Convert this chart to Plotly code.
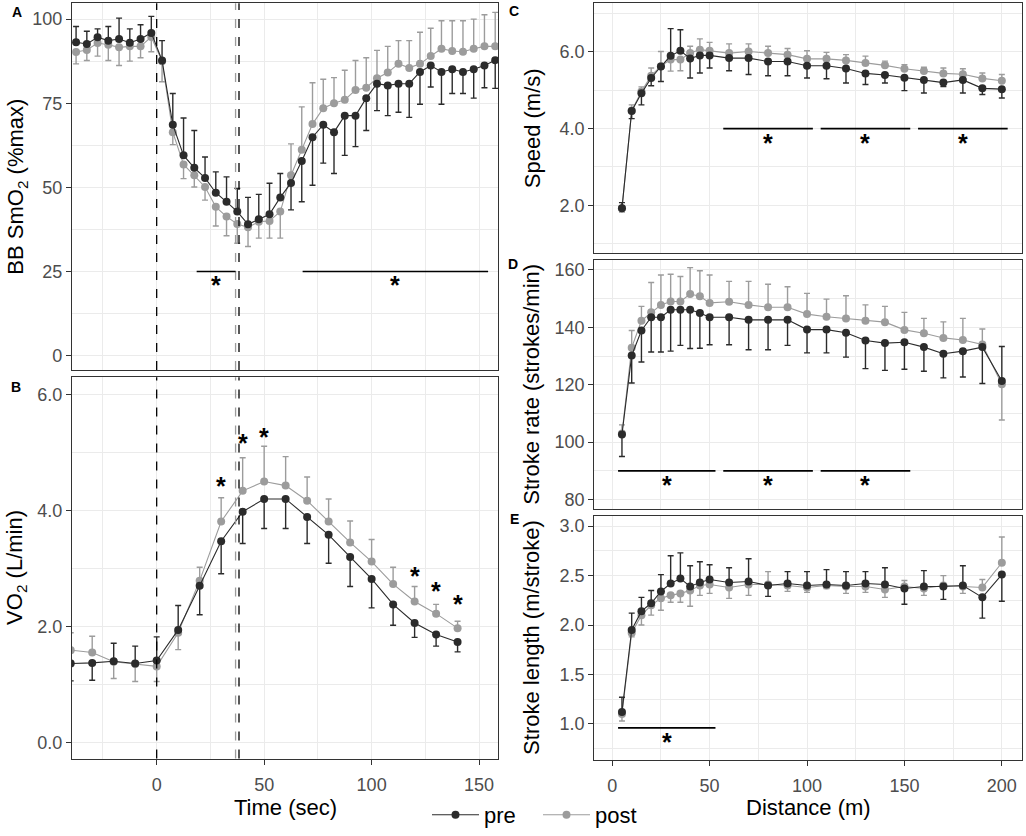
import plotly.graph_objects as go

# ---------------- data ----------------
# A: BB SmO2 (%max) vs time
time_smo2 = [-37.5, -32.5, -27.5, -22.5, -17.5, -12.5, -7.5, -2.5, 2.5, 7.5,
             12.5, 17.5, 22.5, 27.5, 32.5, 37.5, 42.5, 47.5, 52.5, 57.5,
             62.5, 67.5, 72.5, 77.5, 82.5, 87.5, 92.5, 97.5, 102.5, 107.5,
             112.5, 117.5, 122.5, 127.5, 132.5, 137.5, 142.5, 147.5, 152.5, 157.5]
smo2_pre = [93.1, 92.6, 94.6, 93.6, 94.1, 93.0, 94.1, 95.9, 87.7, 68.6,
            59.5, 55.8, 52.8, 48.4, 45.7, 42.8, 39.0, 40.5, 42.0, 47.0,
            51.3, 57.8, 64.9, 68.6, 66.4, 71.3, 71.3, 76.5, 80.8, 80.3,
            80.8, 80.8, 84.3, 86.2, 84.3, 85.1, 84.3, 85.1, 86.2, 87.8]
smo2_pre_sd = [4.7, 3.8, 2.5, 4.2, 6.2, 4.1, 4.2, 4.9, 5.9, 9.3,
               11.1, 11.1, 6.2, 6.2, 7.4, 6.9, 8.0, 7.4, 9.2, 7.1,
               8.0, 12.1, 14.3, 11.4, 12.3, 11.8, 9.2, 9.6, 8.0, 9.0,
               8.5, 10.0, 9.6, 6.4, 9.6, 7.2, 6.4, 8.6, 6.6, 8.4]
smo2_post = [90.2, 90.8, 92.9, 92.4, 91.6, 91.9, 91.9, 94.7, 87.5, 66.4,
             56.8, 53.6, 50.1, 44.2, 41.3, 39.1, 38.1, 39.8, 40.0, 42.8,
             53.6, 61.2, 68.8, 73.5, 75.0, 76.0, 78.9, 79.6, 82.4, 84.1,
             86.7, 85.5, 86.7, 89.0, 91.2, 90.5, 90.3, 91.2, 91.9, 91.9]
smo2_post_sd = [3.5, 3.1, 3.9, 4.7, 5.4, 4.4, 3.4, 4.4, 6.1, 3.7,
                4.2, 3.5, 3.9, 5.7, 5.7, 5.7, 5.7, 4.9, 5.1, 7.9,
                9.3, 12.7, 12.3, 8.6, 7.6, 8.8, 8.8, 8.9, 8.3, 7.8,
                6.9, 8.1, 9.4, 8.3, 8.3, 9.0, 9.2, 8.8, 9.4, 10.1]

# B: VO2 (L/min) vs time
time_vo2 = [-40, -30, -20, -10, 0, 10, 20, 30, 40, 50,
            60, 70, 80, 90, 100, 110, 120, 130, 140]
vo2_pre = [1.36, 1.37, 1.40, 1.36, 1.41, 1.94, 2.70, 3.47, 3.98, 4.20,
           4.20, 3.89, 3.58, 3.20, 2.82, 2.38, 2.06, 1.86, 1.73]
vo2_pre_sd = [0.30, 0.30, 0.31, 0.30, 0.41, 0.42, 0.50, 0.56, 0.55, 0.51,
              0.51, 0.46, 0.49, 0.51, 0.50, 0.36, 0.25, 0.20, 0.17]
vo2_post = [1.59, 1.55, 1.39, 1.35, 1.31, 1.89, 2.79, 3.81, 4.34, 4.50,
            4.43, 4.17, 3.81, 3.45, 3.12, 2.73, 2.43, 2.22, 1.97]
vo2_post_sd = [0.30, 0.28, 0.29, 0.30, 0.26, 0.29, 0.23, 0.41, 0.57, 0.61,
               0.50, 0.41, 0.39, 0.37, 0.38, 0.29, 0.26, 0.16, 0.12]

# C-E: distance based
distance = [5, 10, 15, 20, 25, 30, 35, 40, 45, 50, 60, 70, 80, 90, 100,
            110, 120, 130, 140, 150, 160, 170, 180, 190, 200]
speed_pre = [1.92, 4.46, 4.92, 5.32, 5.62, 5.90, 6.03, 5.83, 5.91, 5.91, 5.84, 5.84, 5.75,
             5.75, 5.64, 5.64, 5.57, 5.44, 5.40, 5.33, 5.27, 5.20, 5.27, 5.05, 5.03]
speed_pre_sd = [0.15, 0.20, 0.30, 0.20, 0.39, 0.71, 0.55, 0.51, 0.46, 0.33, 0.33, 0.43, 0.37,
                0.37, 0.32, 0.34, 0.38, 0.29, 0.21, 0.34, 0.34, 0.10, 0.34, 0.16, 0.23]
speed_post = [1.92, 4.47, 4.97, 5.38, 5.63, 5.80, 5.80, 5.97, 6.06, 6.03, 5.97, 6.01, 5.97,
              5.93, 5.82, 5.82, 5.78, 5.71, 5.65, 5.56, 5.50, 5.44, 5.42, 5.31, 5.25]
speed_post_sd = [0.10, 0.15, 0.12, 0.20, 0.38, 0.30, 0.29, 0.18, 0.28, 0.22, 0.24, 0.20, 0.18,
                 0.16, 0.21, 0.17, 0.15, 0.18, 0.11, 0.11, 0.10, 0.14, 0.14, 0.14, 0.16]

rate_pre = [102.7, 130.2, 138.9, 143.5, 143.5, 146.1, 146.1, 146.1, 145.0, 143.5, 143.5, 142.6,
            142.6, 142.6, 139.2, 139.2, 138.1, 135.4, 134.5, 134.8, 133.1, 130.8, 131.7, 133.1, 121.3]
rate_pre_sd = [7.7, 9.6, 11.0, 12.1, 12.1, 14.4, 12.4, 13.5, 12.3, 9.6, 9.6, 10.4,
               10.4, 8.9, 8.1, 8.1, 8.5, 9.8, 9.5, 9.4, 8.4, 8.4, 9.0, 12.7, 12.0]
rate_post = [103.0, 132.9, 142.3, 145.2, 147.8, 149.0, 149.0, 151.6, 150.8, 148.5, 148.9, 147.8,
             147.0, 147.0, 144.6, 143.7, 143.1, 142.3, 141.8, 139.1, 137.9, 136.3, 135.6, 134.0, 120.2]
rate_post_sd = [3.0, 6.0, 5.0, 10.4, 10.4, 9.5, 8.7, 9.2, 8.9, 9.7, 7.1, 8.2,
                8.0, 7.1, 7.2, 6.1, 7.9, 5.5, 5.5, 6.1, 5.2, 5.6, 7.5, 5.4, 12.5]

length_pre = [1.12, 1.95, 2.14, 2.22, 2.34, 2.42, 2.47, 2.39, 2.43, 2.46, 2.43, 2.44, 2.40,
              2.42, 2.40, 2.41, 2.40, 2.42, 2.41, 2.37, 2.39, 2.39, 2.40, 2.28, 2.51]
length_pre_sd = [0.15, 0.17, 0.14, 0.13, 0.17, 0.28, 0.26, 0.21, 0.21, 0.15, 0.15, 0.23, 0.11,
                 0.12, 0.14, 0.15, 0.14, 0.12, 0.17, 0.16, 0.16, 0.13, 0.20, 0.21, 0.27]
length_post = [1.10, 1.92, 2.10, 2.20, 2.27, 2.30, 2.32, 2.35, 2.40, 2.41, 2.38, 2.41, 2.41,
               2.40, 2.38, 2.40, 2.39, 2.39, 2.36, 2.39, 2.37, 2.40, 2.39, 2.38, 2.63]
length_post_sd = [0.07, 0.04, 0.10, 0.10, 0.12, 0.07, 0.09, 0.16, 0.10, 0.09, 0.11, 0.11, 0.13,
                  0.06, 0.05, 0.03, 0.07, 0.06, 0.08, 0.06, 0.07, 0.10, 0.07, 0.08, 0.26]

# event markers on the time axis (start, mean end post, mean end pre)
time_events = [0, 36.7, 38.3]

# significance bars: (x start, x end, y)
sig_smo2 = [(18.6, 36.7, 25), (67.9, 154.2, 25)]
sig_speed = [(57, 103, 4.0), (107, 153, 4.0), (157, 203, 4.0)]
sig_rate = [(3, 53, 90), (57, 103, 90), (107, 153, 90)]
sig_length = [(3, 53, 0.96)]
# single time point stars in VO2: (time, y)
star_vo2 = [(30, 4.53), (40, 5.27), (50, 5.37), (120, 2.98), (130, 2.72), (140, 2.49)]

# ---------------- figure ----------------
W, H = 1026, 836
PRE = "#2b2b2b"
POST = "#9c9c9c"
FONT = "Liberation Sans, Arial, sans-serif"


def xdom(a, b):
    return [a / W, b / W]


def ydom(top, bottom):
    return [1 - bottom / H, 1 - top / H]


def err_dir(own, other, sd, is_pre):
    # bars point away from the other group
    up, down = [], []
    for a, b, s in zip(own, other, sd):
        go_up = a >= b if is_pre else a > b
        up.append(s if go_up else 0)
        down.append(0 if go_up else s)
    return up, down


fig = go.Figure()

panels = [
    ("x", "y", time_smo2, smo2_pre, smo2_pre_sd, smo2_post, smo2_post_sd),
    ("x2", "y2", time_vo2, vo2_pre, vo2_pre_sd, vo2_post, vo2_post_sd),
    ("x3", "y3", distance, speed_pre, speed_pre_sd, speed_post, speed_post_sd),
    ("x4", "y4", distance, rate_pre, rate_pre_sd, rate_post, rate_post_sd),
    ("x5", "y5", distance, length_pre, length_pre_sd, length_post, length_post_sd),
]

for i, (xa, ya, xs, pre, pre_sd, post, post_sd) in enumerate(panels):
    for name, vals, sd, other, col, is_pre, rank in [
        ("post", post, post_sd, pre, POST, False, 2),
        ("pre", pre, pre_sd, post, PRE, True, 1),
    ]:
        up, down = err_dir(vals, other, sd, is_pre)
        fig.add_trace(go.Scatter(
            x=xs, y=vals, xaxis=xa, yaxis=ya, name=name,
            mode="lines+markers",
            line=dict(color=col, width=1.1),
            marker=dict(color=col, size=8),
            error_y=dict(type="data", symmetric=False, array=up, arrayminus=down,
                         color=col, thickness=1.4, width=3),
            showlegend=(i == 0), legendrank=rank,
        ))

shapes = []
# dashed event lines on panels A and B
for xa, ya in [("x", "y"), ("x2", "y2")]:
    for t, col in zip(time_events, ["black", POST, "black"]):
        shapes.append(dict(type="line", xref=xa, yref=ya + " domain", x0=t, x1=t, y0=0, y1=1,
                           line=dict(color=col, width=1.3, dash="dash")))

annotations = []
for xa, ya, bars in [("x", "y", sig_smo2), ("x3", "y3", sig_speed),
                     ("x4", "y4", sig_rate), ("x5", "y5", sig_length)]:
    for x0, x1, yv in bars:
        shapes.append(dict(type="line", xref=xa, yref=ya, x0=x0, x1=x1, y0=yv, y1=yv,
                           line=dict(color="black", width=1.6)))
        annotations.append(dict(xref=xa, yref=ya, x=(x0 + x1) / 2, y=yv, text="<b>*</b>",
                                showarrow=False, yanchor="top", yshift=2,
                                font=dict(size=25, color="black")))
for t, yv in star_vo2:
    annotations.append(dict(xref="x2", yref="y2", x=t, y=yv, text="<b>*</b>",
                            showarrow=False, yanchor="middle", yshift=-6,
                            font=dict(size=25, color="black")))

# axis titles
title_font = dict(size=22, color="black")
for txt, y0, y1, xpx in [
    ("BB SmO<sub>2</sub> (%max)", 3.3, 372.7, 17),
    ("VO<sub>2</sub> (L/min)", 380, 764, 16),
    ("Speed (m/s)", 3.3, 255, 532),
    ("Stroke rate (strokes/min)", 262, 513, 532),
    ("Stroke length (m/stroke)", 520, 765, 532),
]:
    annotations.append(dict(xref="paper", yref="paper", x=xpx / W, y=1 - (y0 + y1) / 2 / H,
                            text=txt, textangle=-90, showarrow=False,
                            xanchor="center", yanchor="middle", font=title_font))
for txt, xc in [("Time (sec)", 285), ("Distance (m)", 808)]:
    annotations.append(dict(xref="paper", yref="paper", x=xc / W, y=1 - 813 / H,
                            text=txt, showarrow=False, xanchor="center", yanchor="middle",
                            font=title_font))
# panel letters
for txt, xpx, ypx in [("A", 17, 12), ("B", 15.5, 389.5), ("C", 514, 11),
                      ("D", 513, 266), ("E", 514, 523)]:
    annotations.append(dict(xref="paper", yref="paper", x=xpx / W, y=1 - ypx / H,
                            text="<b>%s</b>" % txt, showarrow=False,
                            xanchor="center", yanchor="middle",
                            font=dict(size=14, color="black")))

axis_base = dict(
    showline=True, mirror=True, linecolor="#333333", linewidth=1.3,
    showgrid=True, gridcolor="#EBEBEB", gridwidth=1.3, zeroline=False,
    ticks="outside", ticklen=5, tickwidth=1.1, tickcolor="#333333",
    tickfont=dict(size=18, color="#4D4D4D"),
)


def xaxis(dom, rng, anchor, labels, dtick, minor):
    d = dict(axis_base, domain=dom, range=rng, anchor=anchor, tick0=0, dtick=dtick,
             ticklabelstandoff=5,
             minor=dict(dtick=minor, tick0=0, showgrid=True, gridcolor="#EBEBEB", gridwidth=0.7))
    if not labels:
        d.update(showticklabels=False, ticks="")
    return d


def yaxis(dom, rng, anchor, tick0, dtick, minor, fmt):
    return dict(axis_base, domain=dom, range=rng, anchor=anchor, tick0=tick0, dtick=dtick,
                tickformat=fmt,
                minor=dict(dtick=minor, tick0=tick0, showgrid=True, gridcolor="#EBEBEB",
                           gridwidth=0.7))


left = xdom(72, 498)
right = xdom(594.3, 1021.7)
trng = [-39.4, 158.8]
drng = [-9.2, 210.2]

fig.update_layout(
    width=W, height=H,
    margin=dict(l=0, r=0, t=0, b=0),
    paper_bgcolor="white", plot_bgcolor="white",
    font=dict(family=FONT, color="black"),
    xaxis=xaxis(left, trng, "y", False, 50, 25),
    xaxis2=xaxis(left, trng, "y2", True, 50, 25),
    xaxis3=xaxis(right, drng, "y3", False, 50, 25),
    xaxis4=xaxis(right, drng, "y4", False, 50, 25),
    xaxis5=xaxis(right, drng, "y5", True, 50, 25),
    yaxis=yaxis(ydom(3.3, 372.7), [-4.3, 104.7], "x", 0, 25, 12.5, "d"),
    yaxis2=yaxis(ydom(380, 764), [-0.28, 6.3], "x2", 0, 2, 1, ".1f"),
    yaxis3=yaxis(ydom(3.3, 255), [0.75, 7.27], "x3", 0, 2, 1, ".1f"),
    yaxis4=yaxis(ydom(262, 513), [76.6, 163.4], "x4", 0, 20, 10, "d"),
    yaxis5=yaxis(ydom(520, 765), [0.64, 3.1], "x5", 0, 0.5, 0.25, ".1f"),
    shapes=shapes,
    annotations=annotations,
    legend=dict(orientation="h", x=427 / W, xanchor="left", y=1 - 821 / H, yanchor="middle",
                font=dict(size=22, color="black"), bgcolor="rgba(0,0,0,0)",
                itemwidth=47, entrywidth=49),
)

# the page body has a default margin; drop it so the figure sits at the window origin
fig.write_html("out.html", config={"displayModeBar": False},
               post_script="document.body.style.margin='0';")
